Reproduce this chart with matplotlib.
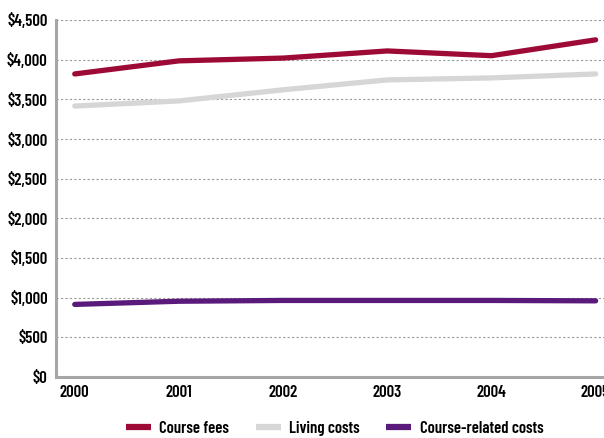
import matplotlib.pyplot as plt
from matplotlib.ticker import FuncFormatter

years = ['2000', '2001', '2002', '2003', '2004', '2005']
course_fees = [3820, 3985, 4020, 4110, 4050, 4250]
living_costs = [3415, 3480, 3620, 3745, 3770, 3820]
course_related = [915, 955, 965, 965, 965, 960]

plt.rcParams['font.family'] = ['Barlow Condensed', 'DejaVu Sans']

fig = plt.figure(figsize=(6.04, 4.38), dpi=100)
ax = fig.add_axes([56 / 604, 1 - 377 / 438, 574 / 604, 357 / 438])

x = range(len(years))
ax.plot(x, course_fees, color='#9e0a36', lw=3.8, solid_capstyle='round', label='Course fees')
ax.plot(x, living_costs, color='#d6d6d6', lw=3.8, solid_capstyle='round', label='Living costs')
ax.plot(x, course_related, color='#5a1a7c', lw=3.8, solid_capstyle='round', label='Course-related costs')

ax.set_xlim(-0.18, 5.33)
ax.set_ylim(0, 4500)
ax.set_yticks(range(0, 4501, 500))
ax.yaxis.set_major_formatter(FuncFormatter(lambda v, p: '${:,.0f}'.format(v)))
ax.set_xticks(list(x))
ax.set_xticklabels(years)
ax.tick_params(length=0, labelsize=12, pad=6)
for lab in ax.get_xticklabels() + ax.get_yticklabels():
    lab.set_fontweight(600)
ax.grid(axis='y', color='#999999', linestyle=(0, (2, 2)), lw=0.8)
ax.set_axisbelow(True)

for s in ['top', 'right']:
    ax.spines[s].set_visible(False)
for s in ['left', 'bottom']:
    ax.spines[s].set_color('#a6a6a6')
    ax.spines[s].set_linewidth(2.2)

leg = fig.legend(loc='lower center', bbox_to_anchor=(0.554, -0.03), ncol=3, frameon=False,
                 fontsize=12, handlelength=1.5, handletextpad=0.5, columnspacing=1.6)
for t in leg.get_texts():
    t.set_fontweight(600)
for h in leg.get_lines():
    h.set_linewidth(4.5)
    h.set_solid_capstyle('butt')

fig.savefig('out.png', dpi=100)
